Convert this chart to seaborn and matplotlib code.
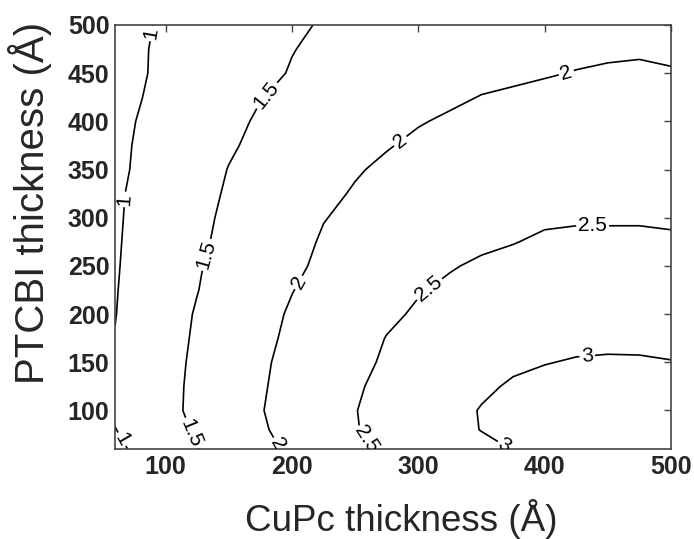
import numpy as np
import matplotlib
matplotlib.use("Agg")
import matplotlib.pyplot as plt
import seaborn as sns

# Grid coordinates (Å)
cupc_thickness = [60, 80, 100, 125, 150, 175, 200, 225, 250, 275,
                  300, 325, 350, 375, 400, 425, 450, 475, 500]
ptcbi_thickness = [60, 80, 100, 125, 150, 175, 200, 225, 250, 275,
                   300, 325, 350, 375, 400, 425, 450, 475, 500]

# Values, one row per PTCBI thickness (columns follow cupc_thickness)
eff_p060 = [0.90, 1.10, 1.28, 1.49, 1.69, 1.88, 2.07, 2.24, 2.42, 2.56, 2.67, 2.79, 2.90, 3.01, 3.08, 3.13, 3.16, 3.17, 3.17]
eff_p080 = [0.99, 1.16, 1.33, 1.55, 1.75, 1.95, 2.13, 2.31, 2.48, 2.62, 2.75, 2.88, 3.01, 3.07, 3.13, 3.17, 3.20, 3.21, 3.21]
eff_p100 = [1.05, 1.22, 1.39, 1.59, 1.78, 1.98, 2.15, 2.32, 2.49, 2.62, 2.75, 2.88, 3.02, 3.08, 3.14, 3.17, 3.19, 3.20, 3.21]
eff_p125 = [1.07, 1.23, 1.39, 1.58, 1.77, 1.96, 2.13, 2.30, 2.46, 2.59, 2.71, 2.83, 2.94, 3.04, 3.08, 3.10, 3.12, 3.12, 3.12]
eff_p150 = [1.05, 1.21, 1.37, 1.57, 1.76, 1.94, 2.11, 2.26, 2.42, 2.54, 2.64, 2.73, 2.84, 2.94, 2.99, 3.02, 3.03, 3.03, 3.01]
eff_p175 = [1.01, 1.18, 1.35, 1.55, 1.73, 1.91, 2.07, 2.22, 2.36, 2.51, 2.59, 2.67, 2.77, 2.86, 2.91, 2.93, 2.94, 2.93, 2.91]
eff_p200 = [0.99, 1.16, 1.33, 1.53, 1.70, 1.88, 2.04, 2.17, 2.31, 2.44, 2.54, 2.61, 2.70, 2.77, 2.82, 2.83, 2.84, 2.84, 2.82]
eff_p225 = [0.98, 1.14, 1.30, 1.49, 1.67, 1.83, 1.99, 2.12, 2.24, 2.36, 2.48, 2.55, 2.62, 2.67, 2.72, 2.74, 2.75, 2.74, 2.73]
eff_p250 = [0.97, 1.12, 1.28, 1.47, 1.63, 1.79, 1.94, 2.06, 2.17, 2.27, 2.37, 2.48, 2.54, 2.58, 2.63, 2.65, 2.65, 2.65, 2.63]
eff_p275 = [0.96, 1.11, 1.25, 1.43, 1.60, 1.75, 1.90, 2.03, 2.11, 2.22, 2.31, 2.39, 2.45, 2.49, 2.54, 2.56, 2.56, 2.56, 2.54]
eff_p300 = [0.95, 1.10, 1.24, 1.41, 1.57, 1.71, 1.85, 1.99, 2.06, 2.18, 2.27, 2.34, 2.38, 2.42, 2.46, 2.47, 2.47, 2.47, 2.46]
eff_p325 = [0.94, 1.09, 1.22, 1.38, 1.54, 1.66, 1.79, 1.92, 2.03, 2.12, 2.20, 2.27, 2.31, 2.34, 2.38, 2.39, 2.40, 2.40, 2.39]
eff_p350 = [0.93, 1.05, 1.18, 1.34, 1.51, 1.62, 1.74, 1.86, 1.97, 2.06, 2.13, 2.19, 2.23, 2.26, 2.30, 2.31, 2.33, 2.32, 2.31]
eff_p375 = [0.92, 1.04, 1.15, 1.31, 1.46, 1.58, 1.68, 1.78, 1.88, 1.98, 2.06, 2.11, 2.15, 2.18, 2.22, 2.23, 2.25, 2.25, 2.24]
eff_p400 = [0.91, 1.02, 1.13, 1.28, 1.42, 1.54, 1.63, 1.72, 1.80, 1.89, 1.98, 2.04, 2.08, 2.11, 2.14, 2.16, 2.18, 2.18, 2.17]
eff_p425 = [0.89, 0.99, 1.10, 1.23, 1.36, 1.49, 1.57, 1.65, 1.73, 1.81, 1.88, 1.95, 2.01, 2.04, 2.07, 2.09, 2.10, 2.11, 2.10]
eff_p450 = [0.88, 0.97, 1.07, 1.18, 1.30, 1.42, 1.52, 1.60, 1.67, 1.75, 1.81, 1.87, 1.92, 1.95, 1.98, 2.01, 2.03, 2.04, 2.02]
eff_p475 = [0.87, 0.97, 1.06, 1.16, 1.27, 1.38, 1.49, 1.56, 1.63, 1.70, 1.76, 1.81, 1.86, 1.89, 1.92, 1.94, 1.96, 1.97, 1.95]
eff_p500 = [0.86, 0.96, 1.04, 1.14, 1.24, 1.34, 1.44, 1.53, 1.59, 1.65, 1.71, 1.75, 1.79, 1.82, 1.85, 1.87, 1.89, 1.90, 1.88]

contour_levels = [1.0, 1.5, 2.0, 2.5, 3.0]
x_ticks = [100, 200, 300, 400, 500]
y_ticks = [100, 150, 200, 250, 300, 350, 400, 450, 500]

# Label anchor positions (layout)
label_spots = [(64, 69), (68, 319), (72, 495),
               (179, 428), (131, 262), (118, 75),
               (417, 451), (289, 374), (205, 233), (190, 66),
               (438, 284), (311, 222), (255, 66),
               (434, 152), (368, 63)]

Z = np.array([eff_p060, eff_p080, eff_p100, eff_p125, eff_p150, eff_p175,
              eff_p200, eff_p225, eff_p250, eff_p275, eff_p300, eff_p325,
              eff_p350, eff_p375, eff_p400, eff_p425, eff_p450, eff_p475,
              eff_p500])
X, Y = np.meshgrid(cupc_thickness, ptcbi_thickness)

sns.set_theme(style="white")
plt.rcParams['font.family'] = ['Liberation Sans', 'DejaVu Sans']

fig = plt.figure(figsize=(6.94, 5.39), dpi=100)
ax = fig.add_axes([115/694, 1 - 449/539, (671-115)/694, (449-25)/539])

cs = ax.contour(X, Y, Z, levels=contour_levels, colors='black', linewidths=1.2)
ax.clabel(cs, fmt=lambda v: f"{v:g}", fontsize=15, inline=True, inline_spacing=2,
          manual=label_spots)

ax.set_xlim(60, 500)
ax.set_ylim(60, 500)
ax.set_xticks(x_ticks)
ax.set_yticks(y_ticks)
ax.tick_params(direction='in', length=5, width=1, top=True, right=True,
               labelsize=18, pad=4, color='#444444')
for lab in ax.get_xticklabels() + ax.get_yticklabels():
    lab.set_fontweight('bold')
for sp in ax.spines.values():
    sp.set_color('#444444')
    sp.set_linewidth(1.2)

ax.set_xlabel("CuPc thickness (Å)", fontsize=26.5)
ax.set_ylabel("PTCBI thickness (Å)", fontsize=29)
ax.xaxis.set_label_coords(0.514, -0.118)
ax.yaxis.set_label_coords(-0.113, 0.58)

fig.savefig("out.png", dpi=100)
